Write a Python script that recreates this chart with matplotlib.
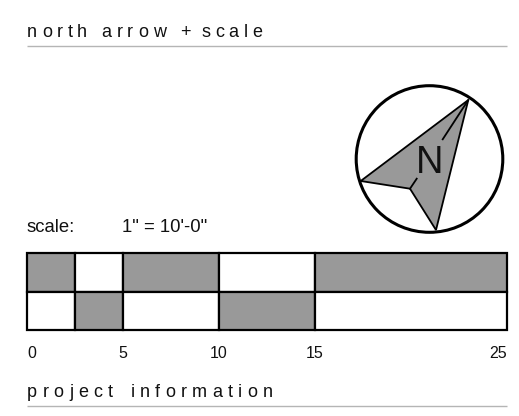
import matplotlib
matplotlib.use("Agg")
import matplotlib.pyplot as plt
from matplotlib.patches import Circle, Polygon, Rectangle

W, H = 519, 416
heading_top_words = ["north", "arrow", "+", "scale"]
heading_bottom_words = ["project", "information"]
scale_label = "scale:"
scale_value = "1\" = 10'-0\""
north_label = "N"

breaks = [0, 2.5, 5, 10, 15, 25]
top_row_dark = [True, False, True, False, True]
bottom_row_dark = [False, True, False, True, False]
tick_values = [0, 5, 10, 15, 25]
tick_labels = ["0", "5", "10", "15", "25"]

circle_x, circle_y, circle_r = 429.5, 159, 73.3
arrow_x = [468.3, 360.7, 410, 436]
arrow_y = [100, 181, 188.7, 230]
stroke_a_x, stroke_a_y = [468.3, 442.7], [100, 139.3]
stroke_b_x, stroke_b_y = [410, 416.7], [188.7, 178.7]

DARK = "#999999"
INK = "#000000"
TEXT = "#111111"
FONT = "Liberation Sans"
px = 0.72

fig = plt.figure(figsize=(W / 100, H / 100), dpi=100)
ax = fig.add_axes([0, 0, 1, 1])
ax.set_xlim(0, W)
ax.set_ylim(H, 0)
ax.axis("off")


def spaced(words, starts, y, size, gap):
    r = fig.canvas.get_renderer()
    for word, x in zip(words, starts):
        cur = x
        for ch in word:
            ax.text(cur, y, ch, fontsize=size * px, family=FONT, color=TEXT, ha="left", va="baseline")
            probe = ax.text(0, 0, "n" + ch + "n", fontsize=size * px, family=FONT)
            w = probe.get_window_extent(r).width
            probe.remove()
            probe = ax.text(0, 0, "nn", fontsize=size * px, family=FONT)
            w -= probe.get_window_extent(r).width
            probe.remove()
            cur += w + gap


spaced(heading_top_words, [27, 101.5, 180, 201], 37.3, 18, 4.8)
spaced(heading_bottom_words, [27, 130.5], 397, 18, 5.3)
for y in (46, 406):
    ax.plot([27, 507], [y, y], color="#b5b5b5", lw=1.0, solid_capstyle="butt")

ax.text(27, 231.5, scale_label, fontsize=18.5 * px, family=FONT, color=TEXT, va="baseline")
ax.text(122, 231.5, scale_value, fontsize=18.5 * px, family=FONT, color=TEXT, va="baseline")

ax.add_patch(Circle((circle_x, circle_y), circle_r, fc="white", ec=INK, lw=2.2, zorder=1))
ax.add_patch(Polygon(list(zip(arrow_x, arrow_y)), closed=True, fc=DARK, ec=INK, lw=1.3, joinstyle="miter", zorder=2))
ax.plot(stroke_a_x, stroke_a_y, color=INK, lw=1.3, zorder=3)
ax.plot(stroke_b_x, stroke_b_y, color=INK, lw=1.3, zorder=3)
ax.text(429.7, 173.3, north_label, fontsize=38 * px, family=FONT, color=TEXT, ha="center", va="baseline", zorder=4)

bar = fig.add_axes([27 / W, 1 - 330.3 / H, 480 / W, 77 / H])
bar.set_xlim(breaks[0], breaks[-1])
bar.set_ylim(0, 2)
for row, flags in ((1, top_row_dark), (0, bottom_row_dark)):
    for left, right, dark in zip(breaks[:-1], breaks[1:], flags):
        bar.add_patch(Rectangle((left, row), right - left, 1, fc=DARK if dark else "white",
                                ec=INK, lw=1.6, clip_on=False))
for s in bar.spines.values():
    s.set_visible(False)
bar.set_yticks([])
bar.set_xticks(tick_values)
bar.set_xticklabels(tick_labels, fontsize=16 * px, family=FONT, color=TEXT)
bar.tick_params(axis="x", length=0, pad=11.5)
labels = bar.get_xticklabels()
labels[0].set_ha("left")
labels[-1].set_ha("right")

fig.savefig("out.png", dpi=100)
